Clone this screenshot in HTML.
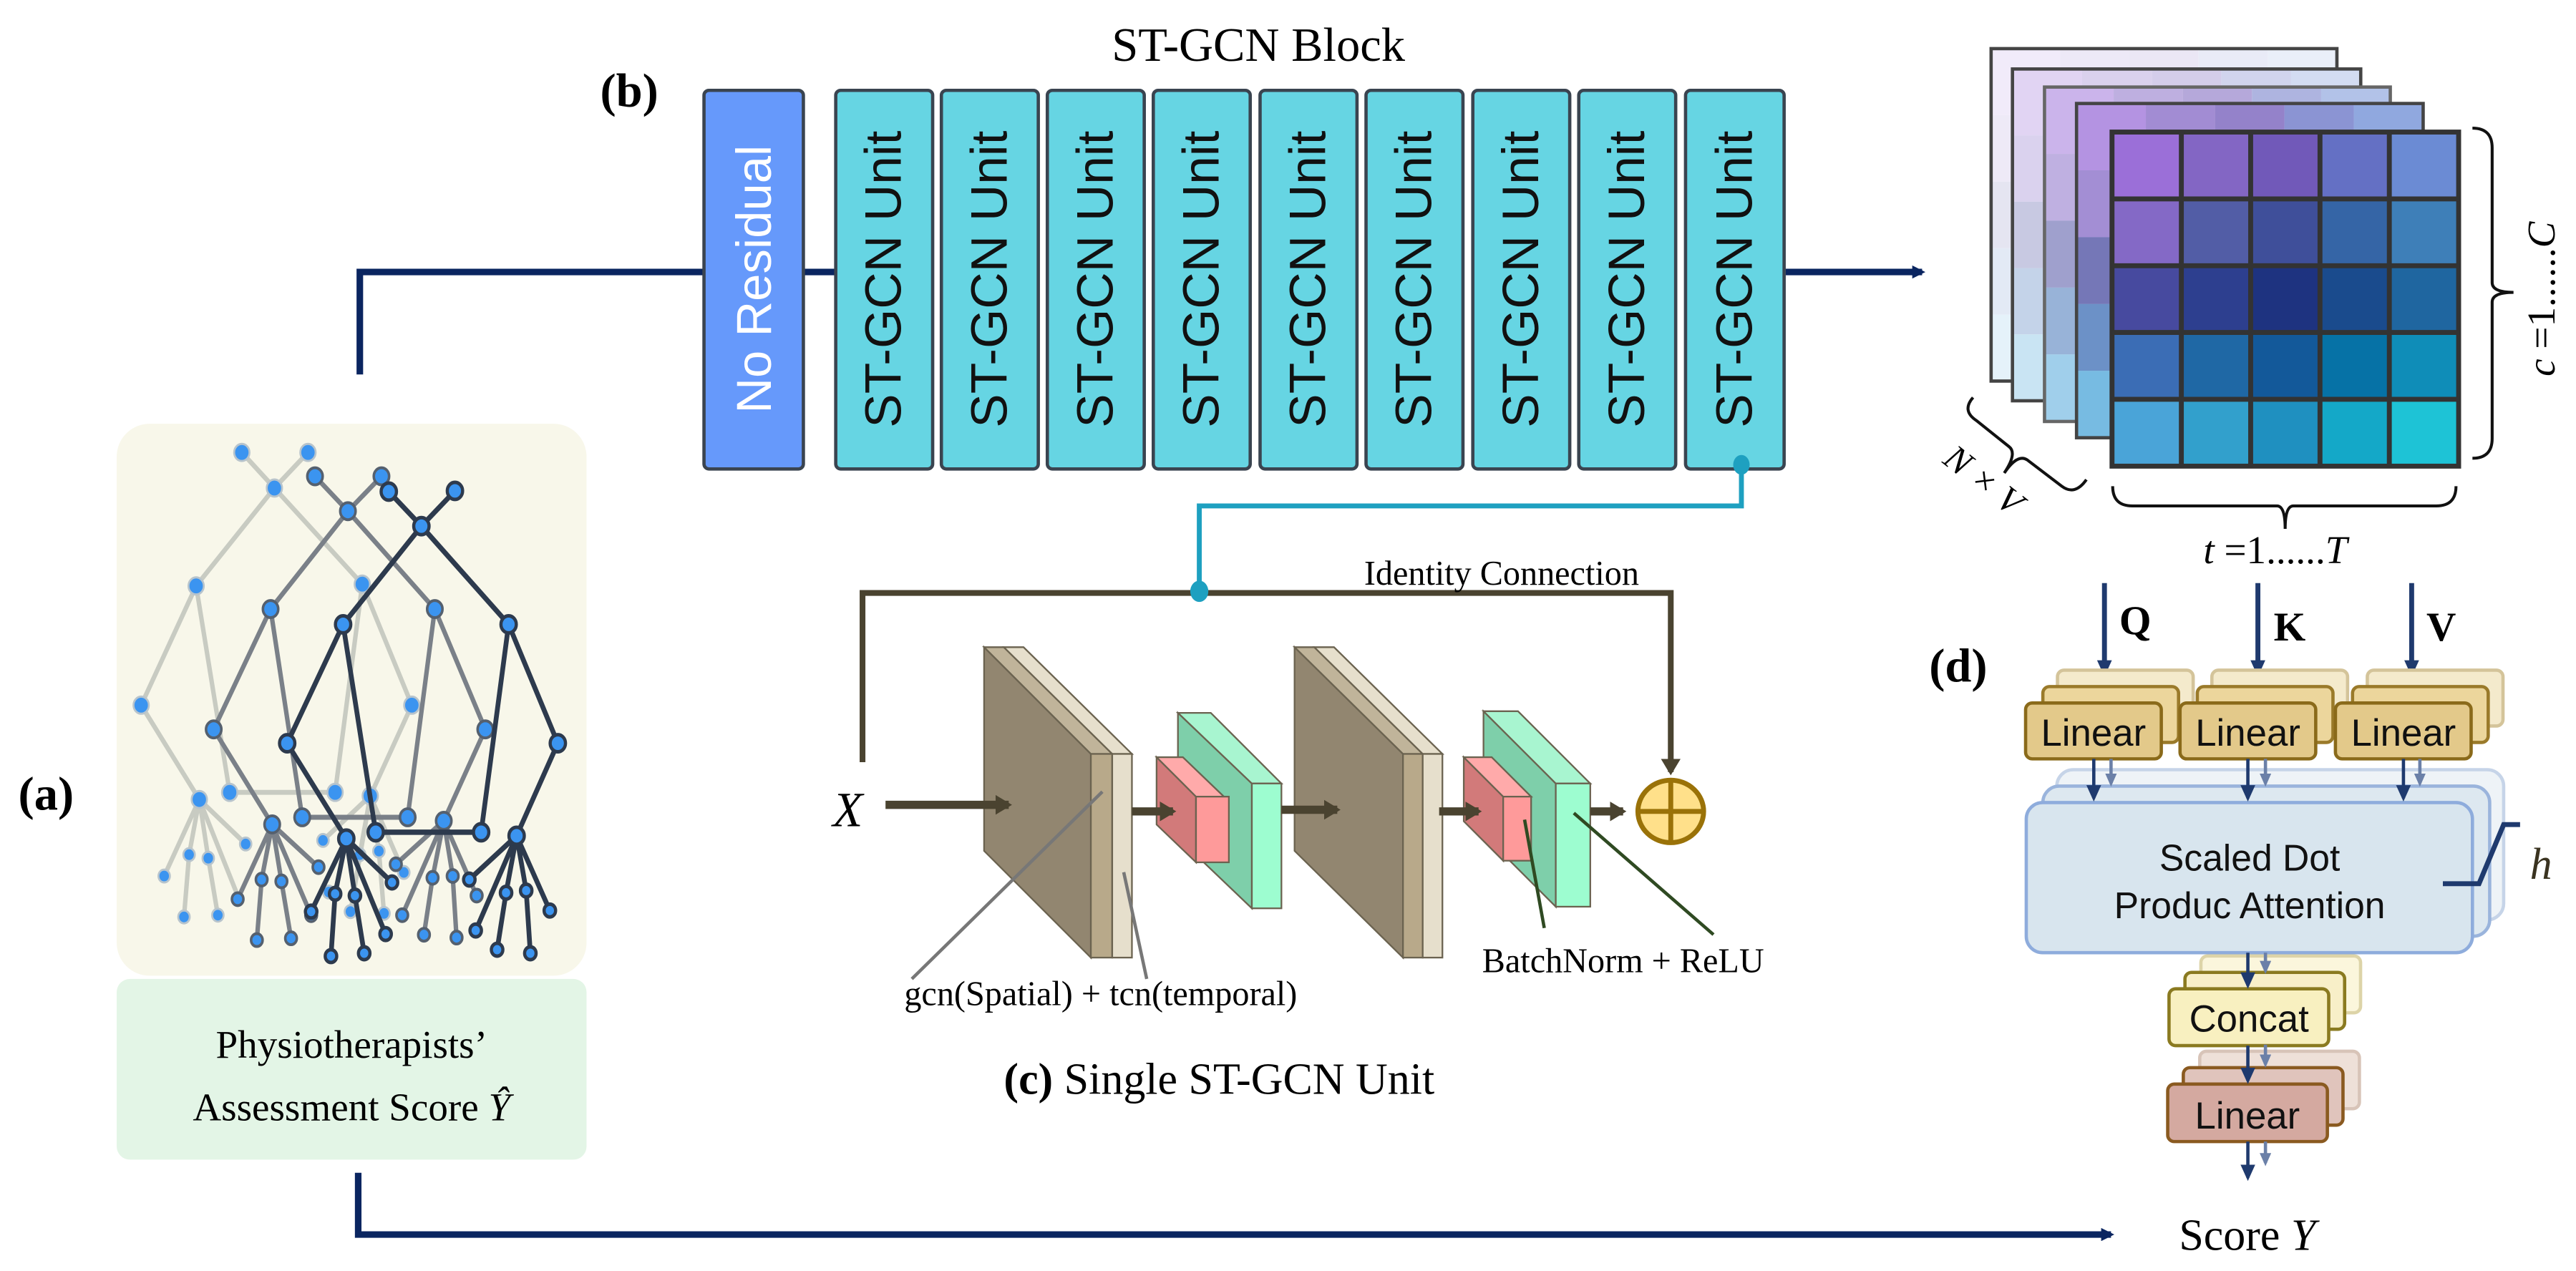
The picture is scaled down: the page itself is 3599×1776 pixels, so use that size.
<!DOCTYPE html>
<html><head><meta charset="utf-8"><style>html,body{margin:0;padding:0;background:#fff}svg{display:block}</style></head>
<body>
<svg xmlns="http://www.w3.org/2000/svg" width="3599" height="1776" viewBox="0 0 1568 773.8">
<defs>
<marker id="an" markerWidth="8" markerHeight="8" refX="6" refY="4" orient="auto" markerUnits="userSpaceOnUse"><path d="M0,0 L8,4 L0,8 z" fill="#0a2560"/></marker>
<marker id="ab" markerWidth="10" markerHeight="12" refX="8" refY="6" orient="auto" markerUnits="userSpaceOnUse"><path d="M0,0 L10,6 L0,12 z" fill="#4a4330"/></marker>
<marker id="aq" markerWidth="10" markerHeight="9" refX="8" refY="4.5" orient="auto" markerUnits="userSpaceOnUse"><path d="M0,0 L10,4.5 L0,9 z" fill="#1f3a6e"/></marker>
<marker id="aq2" markerWidth="8" markerHeight="7" refX="6" refY="3.5" orient="auto" markerUnits="userSpaceOnUse"><path d="M0,0 L8,3.5 L0,7 z" fill="#6b80a8"/></marker>
<g id="cells">
<rect x="0" y="0" width="1" height="1" fill="#9b6fd8"/><rect x="1" y="0" width="1" height="1" fill="#8366c4"/><rect x="2" y="0" width="1" height="1" fill="#7159b9"/><rect x="3" y="0" width="1" height="1" fill="#6470c4"/><rect x="4" y="0" width="1" height="1" fill="#6b8bd4"/>
<rect x="0" y="1" width="1" height="1" fill="#8469c6"/><rect x="1" y="1" width="1" height="1" fill="#525da6"/><rect x="2" y="1" width="1" height="1" fill="#3f4f9a"/><rect x="3" y="1" width="1" height="1" fill="#3565a6"/><rect x="4" y="1" width="1" height="1" fill="#3e7fb8"/>
<rect x="0" y="2" width="1" height="1" fill="#474a9f"/><rect x="1" y="2" width="1" height="1" fill="#2d3f8f"/><rect x="2" y="2" width="1" height="1" fill="#1e3380"/><rect x="3" y="2" width="1" height="1" fill="#1a4b8d"/><rect x="4" y="2" width="1" height="1" fill="#1f66a0"/>
<rect x="0" y="3" width="1" height="1" fill="#3b6db5"/><rect x="1" y="3" width="1" height="1" fill="#1f68a5"/><rect x="2" y="3" width="1" height="1" fill="#13599a"/><rect x="3" y="3" width="1" height="1" fill="#0672a6"/><rect x="4" y="3" width="1" height="1" fill="#0f8db8"/>
<rect x="0" y="4" width="1" height="1" fill="#4aa4d8"/><rect x="1" y="4" width="1" height="1" fill="#32a0cc"/><rect x="2" y="4" width="1" height="1" fill="#1f90c0"/><rect x="3" y="4" width="1" height="1" fill="#14a8c8"/><rect x="4" y="4" width="1" height="1" fill="#1ec3d6"/>
</g>
</defs>
<rect width="1568" height="773.8" fill="#fff"/>

<text x="766" y="37" font-family="Liberation Serif" font-size="29" text-anchor="middle">ST-GCN Block</text>
<text x="383" y="65" font-family="Liberation Serif" font-size="29" font-weight="bold" text-anchor="middle">(b)</text>
<polyline points="219,228 219,165.6 428,165.6" fill="none" stroke="#0a2560" stroke-width="4"/>
<line x1="489" y1="165.6" x2="509" y2="165.6" stroke="#0a2560" stroke-width="4"/>
<line x1="1087" y1="165.6" x2="1170" y2="165.6" stroke="#0a2560" stroke-width="4" marker-end="url(#an)"/>
<rect x="428.5" y="55" width="60.5" height="230.5" rx="3" fill="#6699fb" stroke="#3a4450" stroke-width="2"/>
<text transform="translate(459,170) rotate(-90)" font-family="Liberation Sans" font-size="30" fill="#fff" text-anchor="middle" dominant-baseline="central">No Residual</text>
<g stroke="#3a4450" stroke-width="2">
<rect x="508.7" y="55" width="59" height="230.5" rx="3" fill="#66d5e3"/>
<rect x="573" y="55" width="59" height="230.5" rx="3" fill="#66d5e3"/>
<rect x="637.5" y="55" width="59" height="230.5" rx="3" fill="#66d5e3"/>
<rect x="702" y="55" width="59" height="230.5" rx="3" fill="#66d5e3"/>
<rect x="767" y="55" width="59" height="230.5" rx="3" fill="#66d5e3"/>
<rect x="831.5" y="55" width="59" height="230.5" rx="3" fill="#66d5e3"/>
<rect x="896.5" y="55" width="59" height="230.5" rx="3" fill="#66d5e3"/>
<rect x="961" y="55" width="59" height="230.5" rx="3" fill="#66d5e3"/>
<rect x="1026" y="55" width="60" height="230.5" rx="3" fill="#66d5e3"/>
</g>
<g font-family="Liberation Sans" font-size="31" fill="#111" text-anchor="middle">
<text transform="translate(538,170) rotate(-90)" dominant-baseline="central">ST-GCN Unit</text>
<text transform="translate(602.5,170) rotate(-90)" dominant-baseline="central">ST-GCN Unit</text>
<text transform="translate(667,170) rotate(-90)" dominant-baseline="central">ST-GCN Unit</text>
<text transform="translate(731.5,170) rotate(-90)" dominant-baseline="central">ST-GCN Unit</text>
<text transform="translate(796.5,170) rotate(-90)" dominant-baseline="central">ST-GCN Unit</text>
<text transform="translate(861,170) rotate(-90)" dominant-baseline="central">ST-GCN Unit</text>
<text transform="translate(926,170) rotate(-90)" dominant-baseline="central">ST-GCN Unit</text>
<text transform="translate(990.5,170) rotate(-90)" dominant-baseline="central">ST-GCN Unit</text>
<text transform="translate(1056,170) rotate(-90)" dominant-baseline="central">ST-GCN Unit</text>
</g>
<polyline points="1060,283 1060,308 730,308 730,360" fill="none" stroke="#1ea0c0" stroke-width="3"/>
<ellipse cx="1060" cy="283" rx="5" ry="6" fill="#1ea0c0"/>

<polyline points="525,464 525,361 1017,361 1017,470" fill="none" stroke="#4a4330" stroke-width="3.5" marker-end="url(#ab)"/>
<ellipse cx="730" cy="360" rx="5.5" ry="6.5" fill="#1ea0c0"/>
<text x="914" y="356" font-family="Liberation Serif" font-size="21" text-anchor="middle">Identity Connection</text>
<text x="516" y="503" font-family="Liberation Serif" font-size="30" font-style="italic" text-anchor="middle">X</text>
<g stroke="#6b6350" stroke-width="1">
<polygon points="599,394 664,459 664,583 599,518" fill="#928670"/>
<polygon points="599,394 611,394 677,459 664,459" fill="#c0b49a"/>
<polygon points="611,394 623,394 689,459 677,459" fill="#e6dfcc"/>
<rect x="664" y="459" width="13" height="124" fill="#b8a98a"/>
<rect x="677" y="459" width="12" height="124" fill="#e6dfcc"/>
<polygon points="717,434 762,477 762,553 717,510" fill="#7ecfaa"/>
<polygon points="717,434 737,434 780,477 762,477" fill="#a8f5d0"/>
<rect x="762" y="477" width="18" height="76" fill="#9dfdd0"/>
<polygon points="704,461 728,485 728,525 704,502" fill="#d27a7a"/>
<polygon points="704,461 720,461 745,485 728,485" fill="#ffaaaa"/>
<rect x="728" y="485" width="20" height="40" fill="#fe9a9a"/>
<polygon points="788,394 854,459 854,583 788,518" fill="#928670"/>
<polygon points="788,394 800,394 866,459 854,459" fill="#c0b49a"/>
<polygon points="800,394 812,394 878,459 866,459" fill="#e6dfcc"/>
<rect x="854" y="459" width="12" height="124" fill="#b8a98a"/>
<rect x="866" y="459" width="12" height="124" fill="#e6dfcc"/>
<polygon points="903,433 947,477 947,552 903,508" fill="#7ecfaa"/>
<polygon points="903,433 924,433 968,477 947,477" fill="#a8f5d0"/>
<rect x="947" y="477" width="21" height="75" fill="#9dfdd0"/>
<polygon points="891,461 915,485 915,524 891,500" fill="#d27a7a"/>
<polygon points="891,461 908,461 932,485 915,485" fill="#ffaaaa"/>
<rect x="915" y="485" width="17" height="39" fill="#fe9a9a"/>
</g>
<g stroke="#4a4330" stroke-width="5">
<line x1="539" y1="490" x2="614" y2="490" marker-end="url(#ab)"/>
<line x1="689" y1="494" x2="714" y2="494" marker-end="url(#ab)"/>
<line x1="780" y1="493" x2="814" y2="493" marker-end="url(#ab)"/>
<line x1="876" y1="494" x2="900" y2="494" marker-end="url(#ab)"/>
<line x1="968" y1="494" x2="988" y2="494" marker-end="url(#ab)"/>
</g>
<ellipse cx="1017" cy="494" rx="20" ry="19" fill="#ffe08a" stroke="#9a7208" stroke-width="3"/>
<line x1="997" y1="494" x2="1037" y2="494" stroke="#9a7208" stroke-width="3"/>
<line x1="1017" y1="475" x2="1017" y2="513" stroke="#9a7208" stroke-width="3"/>
<line x1="671" y1="482" x2="555" y2="596" stroke="#777" stroke-width="2"/>
<line x1="684" y1="531" x2="698" y2="596" stroke="#777" stroke-width="2"/>
<line x1="928" y1="499" x2="940" y2="565" stroke="#2f4a22" stroke-width="2"/>
<line x1="958" y1="495" x2="1043" y2="569" stroke="#2f4a22" stroke-width="2"/>
<text x="670" y="612" font-family="Liberation Serif" font-size="21" text-anchor="middle">gcn(Spatial) + tcn(temporal)</text>
<text x="988" y="592" font-family="Liberation Serif" font-size="21" text-anchor="middle">BatchNorm + ReLU</text>
<text x="611" y="666" font-family="Liberation Serif" font-size="27"><tspan font-weight="bold">(c)</tspan>  Single ST-GCN Unit</text>

<text x="28" y="493" font-family="Liberation Serif" font-size="29" font-weight="bold" text-anchor="middle">(a)</text>
<rect x="71" y="258" width="286" height="336" rx="20" fill="#f8f7ea"/>
<rect x="71" y="596" width="286" height="110" rx="8" fill="#e3f5e6"/>
<text x="214" y="644" font-family="Liberation Serif" font-size="24" text-anchor="middle">Physiotherapists’</text>
<text x="214" y="682" font-family="Liberation Serif" font-size="24" text-anchor="middle">Assessment Score <tspan font-style="italic">Ŷ</tspan></text>
<g transform="translate(61,252.7) scale(0.1945,0.2167)">
<g stroke="#c8cbc2" stroke-width="14" fill="none" stroke-linecap="round">
<path d="M443,105 L545,205 L650,105 M545,205 L300,480 M545,205 L820,475 M300,480 L128,815 L310,1080 M300,480 L405,1060 L735,1060 M820,475 L735,1060 M820,475 L975,815 L845,1070 M310,1080 L200,1295 M310,1080 L278,1235 L262,1410 M310,1080 L338,1245 L368,1405 M310,1080 L455,1205 M310,1080 L430,1350 M845,1070 L697,1195 M845,1070 L812,1235 M845,1070 L872,1225 L888,1400 M845,1070 L950,1285 M845,1070 L783,1395"/>
</g>
<g fill="#3b94f0" stroke="#b8c4cc" stroke-width="6">
<circle cx="443" cy="105" r="24"/><circle cx="650" cy="105" r="24"/><circle cx="545" cy="205" r="24"/><circle cx="300" cy="480" r="24"/><circle cx="820" cy="475" r="24"/><circle cx="128" cy="815" r="24"/><circle cx="975" cy="815" r="24"/><circle cx="310" cy="1080" r="24"/><circle cx="405" cy="1060" r="24"/><circle cx="735" cy="1060" r="24"/><circle cx="845" cy="1070" r="24"/>
<circle cx="200" cy="1295" r="18"/><circle cx="278" cy="1235" r="18"/><circle cx="338" cy="1245" r="18"/><circle cx="455" cy="1205" r="18"/><circle cx="262" cy="1410" r="18"/><circle cx="368" cy="1405" r="18"/><circle cx="697" cy="1195" r="18"/><circle cx="812" cy="1235" r="18"/><circle cx="872" cy="1225" r="18"/><circle cx="950" cy="1285" r="18"/><circle cx="888" cy="1400" r="18"/><circle cx="783" cy="1395" r="18"/><circle cx="715" cy="1340" r="18"/>
</g>
<g stroke="#7a8088" stroke-width="14" fill="none" stroke-linecap="round">
<path d="M672,172 L775,270 L880,172 M775,270 L533,545 L355,883 L538,1150 M533,545 L632,1130 L962,1130 M775,270 L1047,545 L962,1130 M1047,545 L1205,883 L1075,1140 M538,1150 L430,1360 M538,1150 L505,1305 L490,1475 M538,1150 L567,1310 L597,1470 M538,1150 L683,1270 M538,1150 L660,1405 M1075,1140 L925,1262 M1075,1140 L1040,1300 L1013,1460 M1075,1140 L1103,1295 L1115,1468 M1075,1140 L1178,1350 M1075,1140 L945,1405"/>
</g>
<g fill="#3b94f0" stroke="#55606e" stroke-width="8">
<circle cx="672" cy="172" r="24"/><circle cx="880" cy="172" r="24"/><circle cx="775" cy="270" r="24"/><circle cx="533" cy="545" r="24"/><circle cx="1047" cy="545" r="24"/><circle cx="355" cy="883" r="24"/><circle cx="1205" cy="883" r="24"/><circle cx="538" cy="1150" r="24"/><circle cx="632" cy="1130" r="24"/><circle cx="962" cy="1130" r="24"/><circle cx="1075" cy="1140" r="24"/>
<circle cx="430" cy="1360" r="18"/><circle cx="505" cy="1305" r="18"/><circle cx="490" cy="1475" r="18"/><circle cx="567" cy="1310" r="18"/><circle cx="597" cy="1470" r="18"/><circle cx="683" cy="1270" r="18"/><circle cx="660" cy="1405" r="18"/><circle cx="925" cy="1262" r="18"/><circle cx="1040" cy="1300" r="18"/><circle cx="1013" cy="1460" r="18"/><circle cx="1103" cy="1295" r="18"/><circle cx="1115" cy="1468" r="18"/><circle cx="1178" cy="1350" r="18"/><circle cx="945" cy="1405" r="18"/>
</g>
<g stroke="#2d3a4d" stroke-width="15" fill="none" stroke-linecap="round">
<path d="M903,215 L1005,312 L1110,213 M1005,312 L760,588 L585,922 L770,1190 M760,588 L862,1172 L1192,1172 M1005,312 L1278,588 L1192,1172 M1278,588 L1432,922 L1303,1182 M770,1190 L660,1395 M770,1190 L735,1345 L722,1520 M770,1190 L797,1350 L826,1512 M770,1190 L893,1458 M770,1190 L913,1313 M1303,1182 L1155,1305 M1303,1182 L1270,1342 L1242,1502 M1303,1182 L1333,1336 L1346,1512 M1303,1182 L1407,1392 M1303,1182 L1175,1448"/>
</g>
<g fill="#3b94f0" stroke="#2d3a4d" stroke-width="10">
<circle cx="903" cy="215" r="24"/><circle cx="1110" cy="213" r="24"/><circle cx="1005" cy="312" r="24"/><circle cx="760" cy="588" r="24"/><circle cx="1278" cy="588" r="24"/><circle cx="585" cy="922" r="24"/><circle cx="1432" cy="922" r="24"/><circle cx="770" cy="1190" r="24"/><circle cx="862" cy="1172" r="24"/><circle cx="1192" cy="1172" r="24"/><circle cx="1303" cy="1182" r="24"/>
<circle cx="660" cy="1395" r="18"/><circle cx="735" cy="1345" r="18"/><circle cx="722" cy="1520" r="18"/><circle cx="797" cy="1350" r="18"/><circle cx="826" cy="1512" r="18"/><circle cx="893" cy="1458" r="18"/><circle cx="913" cy="1313" r="18"/><circle cx="1155" cy="1305" r="18"/><circle cx="1270" cy="1342" r="18"/><circle cx="1242" cy="1502" r="18"/><circle cx="1333" cy="1336" r="18"/><circle cx="1346" cy="1512" r="18"/><circle cx="1407" cy="1392" r="18"/><circle cx="1175" cy="1448" r="18"/>
</g>
</g>
<polyline points="218,714 218,751.6 1285,751.6" fill="none" stroke="#0a2560" stroke-width="4" marker-end="url(#an)"/>

<g>
<use href="#cells" transform="translate(1212,29.6) scale(42.1,40.5)"/>
<rect x="1212" y="29.6" width="210.5" height="202.4" fill="#fff" fill-opacity="0.86" stroke="#444" stroke-width="2"/>
<use href="#cells" transform="translate(1225,42) scale(42.4,40.4)"/>
<rect x="1225" y="42" width="212" height="202" fill="#fff" fill-opacity="0.7" stroke="#444" stroke-width="2"/>
<use href="#cells" transform="translate(1244.5,53) scale(42.1,40.7)"/>
<rect x="1244.5" y="53" width="210.5" height="203.6" fill="#fff" fill-opacity="0.48" stroke="#666" stroke-width="2"/>
<use href="#cells" transform="translate(1264,63) scale(42.2,40.7)"/>
<rect x="1264" y="63" width="211" height="203.5" fill="#fff" fill-opacity="0.25" stroke="#444" stroke-width="2"/>
<use href="#cells" transform="translate(1285.6,80.4) scale(42.2,40.7)"/>
<g stroke="#333" stroke-width="3" fill="none">
<rect x="1285.6" y="80.4" width="211" height="203.4"/>
<path d="M1327.8,80.4V283.8M1370,80.4V283.8M1412.2,80.4V283.8M1454.4,80.4V283.8M1285.6,121.1H1496.6M1285.6,161.8H1496.6M1285.6,202.4H1496.6M1285.6,243.1H1496.6"/>
</g>
</g>
<g fill="none" stroke="#111" stroke-width="1.8">
<path d="M1505,78 Q1517,78 1517,90 L1517,172 Q1517,178 1530,178 Q1517,178 1517,184 L1517,267 Q1517,279 1505,279"/>
<path d="M1286,296 Q1286,308 1298,308 L1386,308 Q1391,308 1391,322 Q1391,308 1396,308 L1483,308 Q1495,308 1495,296"/>
<path d="M1201,242 Q1194,250 1203,256 L1223,272 Q1228,276 1220,288 Q1228,276 1234,280 L1255,296 Q1263,302 1270,292"/>
</g>
<text transform="translate(1555,182) rotate(-90)" font-family="Liberation Serif" font-size="24" text-anchor="middle"><tspan font-style="italic">c</tspan> =1......<tspan font-style="italic">C</tspan></text>
<text x="1385" y="343" font-family="Liberation Serif" font-size="24" text-anchor="middle"><tspan font-style="italic">t</tspan> =1......<tspan font-style="italic">T</tspan></text>
<text transform="translate(1203,298) rotate(38)" font-family="Liberation Serif" font-size="22" font-style="italic" text-anchor="middle">N × V</text>

<text x="1192" y="415" font-family="Liberation Serif" font-size="29" font-weight="bold" text-anchor="middle">(d)</text>
<g stroke="#1f3a6e" stroke-width="3">
<line x1="1281" y1="355" x2="1281" y2="410" marker-end="url(#aq)"/>
<line x1="1374.4" y1="355" x2="1374.4" y2="410" marker-end="url(#aq)"/>
<line x1="1468" y1="355" x2="1468" y2="410" marker-end="url(#aq)"/>
</g>
<g font-family="Liberation Serif" font-size="25" font-weight="bold">
<text x="1290" y="386">Q</text><text x="1384" y="390">K</text><text x="1477" y="390">V</text>
</g>
<g stroke-width="2">
<rect x="1252.4" y="408" width="82.6" height="34" rx="4" fill="#f4eacc" stroke="#d4c49a"/>
<rect x="1346.4" y="408" width="82.6" height="34" rx="4" fill="#f4eacc" stroke="#d4c49a"/>
<rect x="1441" y="408" width="82.6" height="34" rx="4" fill="#f4eacc" stroke="#d4c49a"/>
<rect x="1243.5" y="418" width="82.6" height="34" rx="4" fill="#ecd69c" stroke="#9a7a2a"/>
<rect x="1337.5" y="418" width="82.6" height="34" rx="4" fill="#ecd69c" stroke="#9a7a2a"/>
<rect x="1432" y="418" width="82.6" height="34" rx="4" fill="#ecd69c" stroke="#9a7a2a"/>
<rect x="1233" y="428" width="82.6" height="34" rx="4" fill="#e3c98a" stroke="#8a6a1a"/>
<rect x="1327" y="428" width="82.6" height="34" rx="4" fill="#e3c98a" stroke="#8a6a1a"/>
<rect x="1421.6" y="428" width="82.6" height="34" rx="4" fill="#e3c98a" stroke="#8a6a1a"/>
</g>
<g font-family="Liberation Sans" font-size="23" text-anchor="middle" fill="#111">
<text x="1274.3" y="454">Linear</text><text x="1368.3" y="454">Linear</text><text x="1463" y="454">Linear</text>
</g>
<g stroke-width="2">
<rect x="1252" y="468.6" width="272" height="91.4" rx="10" fill="#eef3f7" stroke="#c6d4e8"/>
<rect x="1243.5" y="478.6" width="272" height="91.4" rx="10" fill="#dde8f0" stroke="#9ab4dc"/>
<rect x="1233.4" y="488.6" width="271.6" height="91.4" rx="10" fill="#d8e5ee" stroke="#8eacdc"/>
</g>
<g stroke="#6b80a8" stroke-width="2">
<line x1="1285" y1="462" x2="1285" y2="477" marker-end="url(#aq2)"/>
<line x1="1379" y1="462" x2="1379" y2="477" marker-end="url(#aq2)"/>
<line x1="1473" y1="462" x2="1473" y2="477" marker-end="url(#aq2)"/>
</g>
<g stroke="#1f3a6e" stroke-width="2">
<line x1="1274.5" y1="462" x2="1274.5" y2="486" marker-end="url(#aq)"/>
<line x1="1368.3" y1="462" x2="1368.3" y2="486" marker-end="url(#aq)"/>
<line x1="1463" y1="462" x2="1463" y2="486" marker-end="url(#aq)"/>
</g>
<text x="1369.4" y="530" font-family="Liberation Sans" font-size="22.5" text-anchor="middle" fill="#111">Scaled Dot</text>
<text x="1369.4" y="559" font-family="Liberation Sans" font-size="22.5" text-anchor="middle" fill="#111">Produc Attention</text>
<polyline points="1487,538 1509,538 1524,502 1534,502" fill="none" stroke="#1f3a6e" stroke-width="3"/>
<text x="1540" y="535" font-family="Liberation Serif" font-size="27" font-style="italic" fill="#3a3320">h</text>
<g stroke-width="2">
<rect x="1339.7" y="582" width="97.2" height="34.6" rx="4" fill="#fbf6dc" stroke="#ddd4a8"/>
<rect x="1330" y="592" width="97.2" height="34.6" rx="4" fill="#f8efc8" stroke="#8a7a20"/>
<rect x="1320.3" y="602" width="97.2" height="34.6" rx="4" fill="#f8f0c0" stroke="#8a7a20"/>
<rect x="1339" y="640" width="97.2" height="35" rx="4" fill="#eee0d8" stroke="#d8c4b8"/>
<rect x="1329" y="650" width="97.2" height="35" rx="4" fill="#e0c4bc" stroke="#8a5a20"/>
<rect x="1319.5" y="660" width="97.2" height="35" rx="4" fill="#d4a9a0" stroke="#8a5a20"/>
</g>
<text x="1369" y="628" font-family="Liberation Sans" font-size="23" text-anchor="middle" fill="#111">Concat</text>
<text x="1368" y="687" font-family="Liberation Sans" font-size="23" text-anchor="middle" fill="#111">Linear</text>
<g stroke="#6b80a8" stroke-width="2">
<line x1="1379" y1="580" x2="1379" y2="591" marker-end="url(#aq2)"/>
<line x1="1379" y1="636" x2="1379" y2="648" marker-end="url(#aq2)"/>
<line x1="1379" y1="695" x2="1379" y2="708" marker-end="url(#aq2)"/>
</g>
<g stroke="#1f3a6e" stroke-width="2">
<line x1="1368.3" y1="580" x2="1368.3" y2="600" marker-end="url(#aq)"/>
<line x1="1368.3" y1="636.6" x2="1368.3" y2="658" marker-end="url(#aq)"/>
<line x1="1368.3" y1="695" x2="1368.3" y2="717" marker-end="url(#aq)"/>
</g>
<text x="1368" y="761" font-family="Liberation Serif" font-size="27" text-anchor="middle">Score <tspan font-style="italic">Y</tspan></text>
</svg>
</body></html>
